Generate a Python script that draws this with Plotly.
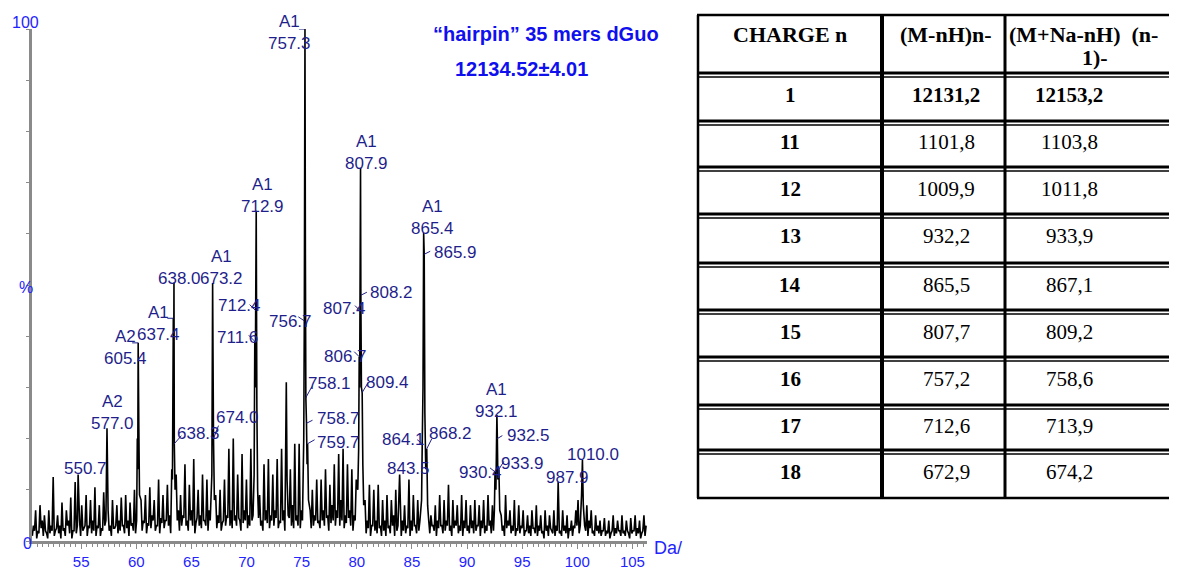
import numpy as np
import plotly.graph_objects as go

# ---------------- spectrum data ----------------
noise_start = 509      # m/z of first baseline sample
noise_step = 2         # m/z between baseline samples (each holds a trough then a spike)
# spike tops of the baseline noise (%), one per 2 m/z
noise_hi = [
    3, 6, 2, 7, 4, 5, 1.5, 6, 3, 12.5,
    2, 5, 3, 7.5, 2.5, 6, 4, 8.5, 2, 11.5,
    3, 4, 7, 2.5, 9, 3, 8, 4, 10.5, 3,
    7, 2.5, 9.5, 4, 6, 3, 8, 2.5, 7, 4,
    8.5, 3, 9, 4, 7.5, 3.5, 10, 4, 5, 8,
    4, 9, 3.5, 10.5, 5, 8, 3, 12, 4.5, 9,
    4, 11, 5, 14, 4, 13, 6, 9, 5, 15,
    4, 11, 6, 16, 3.5, 10, 5, 13, 4, 12,
    6, 17, 4, 9, 5, 10, 3.5, 12, 5, 18,
    6, 20, 5, 13, 4, 17, 6, 12, 5, 18,
    5, 11, 6, 9, 4, 15, 6, 16, 5, 13,
    6, 16, 4, 18, 6, 10, 5, 14, 7, 19,
    5, 19, 6, 11, 7, 9, 6, 10, 5, 12,
    4, 12, 6, 14, 5, 11, 7, 15, 6, 17,
    8, 18, 5, 15, 6, 14, 5, 12, 6, 10,
    7, 8, 4, 11, 3, 10, 4, 11, 3, 8,
    4, 9, 3, 8, 5, 10, 3, 9, 4, 7,
    3, 12, 4, 9, 3, 8, 4, 7, 5, 6,
    4, 5, 3, 7, 4, 9, 3, 8, 4, 11,
    3, 8, 4, 7, 3, 9, 4, 8, 3, 7,
    4, 8, 3, 7, 4, 8, 3, 9, 4, 7,
    3, 6, 4, 5, 3, 9, 4, 6, 3, 8,
    2.5, 7, 3, 6, 2, 5, 3, 6, 2.5, 7,
    3, 5, 2, 6, 3, 5, 2, 6, 3, 5,
    2, 6, 3, 5, 2.5, 4, 3, 6, 8, 3,
    9, 3, 7, 4, 6, 2, 5, 3, 4, 2,
    4.5, 2, 4, 1.5, 5, 2.5, 4, 2, 5, 2,
    4, 1.5, 4.5, 2, 5, 2.5, 4, 1.5, 5, 3,
]
# troughs of the baseline noise (%), one per 2 m/z
noise_lo = [
    1, 2, 0.5, 1.5, 2.5, 1, 2, 0.5, 1.5, 2,
    1, 2.5, 1.5, 0.5, 2, 1, 3, 1.5, 0.5, 2,
    1.5, 2.5, 1, 2, 3, 1, 2.5, 1.5, 2, 1,
    2.5, 1, 2, 3, 1.5, 2, 1, 2.5, 3, 1.5,
    2, 3, 1.5, 2.5, 1, 3, 2, 1.5, 2.5, 3,
    2, 3.5, 1.5, 3, 2.5, 4, 2, 3, 1.5, 3.5,
    2.5, 4, 3, 1.5, 3.5, 2.5, 4, 2, 3, 4.5,
    3, 2, 4, 3, 1.5, 4.5, 3, 2.5, 4, 3,
    2, 4, 3, 4.5, 2.5, 3.5, 2, 4, 3, 4.5,
    3, 2.5, 4, 3, 4.5, 2, 3.5, 4, 2.5, 3,
    4, 3, 2.5, 4.5, 3, 2, 4, 3.5, 2.5, 4,
    3, 4.5, 2.5, 3.5, 4, 2, 3, 4.5, 3, 2.5,
    4, 3, 2.5, 4, 3.5, 3, 4.5, 2.5, 3, 4,
    3.5, 2.5, 4, 3, 4.5, 2, 3.5, 4, 3, 4.5,
    3, 4, 2.5, 3.5, 4.5, 3, 2, 4, 3, 3.5,
    2, 3, 1.5, 2.5, 1, 3, 2, 1.5, 2.5, 1,
    2, 1, 2.5, 1.5, 3, 1, 2, 2.5, 1, 2,
    1.5, 2.5, 1, 2, 3, 1.5, 2, 1, 2.5, 2,
    2.5, 1.5, 3, 2, 1, 2.5, 3, 1.5, 2, 3,
    2, 1, 2.5, 3, 1.5, 2, 1, 2.5, 2, 1.5,
    2.5, 1.5, 2, 3, 1, 2.5, 1.5, 2, 3, 1.5,
    2, 1, 2.5, 1.5, 2, 1, 2.5, 3, 1.5, 2,
    1, 2, 1.5, 2.5, 1, 2, 1.5, 1, 2.5, 1.5,
    1, 2, 1.5, 0.5, 2, 1, 2.5, 1.5, 1, 2,
    1.5, 1, 2, 1.5, 0.5, 2, 1, 2.5, 3, 1.5,
    3, 1.5, 2, 1, 2.5, 1.5, 1, 2, 1.5, 1,
    2, 1, 1.5, 0.5, 2, 1, 1.5, 2, 1, 1.5,
    1, 2, 0.5, 1.5, 2, 1, 1.5, 0.5, 2, 1,
]

peak_mz = [
    550.7, 577.0,
    604.6, 605.0, 605.4, 606.0, 606.6,
    636.6, 637.4, 637.7, 638.0, 638.3, 639.0,
    672.5, 673.2, 673.6, 674.0, 674.8,
    711.0, 711.6, 712.0, 712.4, 712.9, 713.5, 714.2,
    739.6, 740.3, 741.0,
    755.6, 756.2, 756.7, 757.3, 757.7, 758.1, 758.7, 759.2, 759.7, 760.5,
    805.4, 806.2, 806.7, 807.1, 807.4, 807.9, 808.2, 808.7, 809.4, 810.0, 810.8,
    843.5,
    863.5, 864.1, 864.8, 865.4, 865.9, 866.5, 867.3, 868.2, 869.0,
    929.8, 930.4, 931.2, 931.7, 932.1, 932.5, 933.0, 933.9, 934.7,
    987.9,
    1009.2, 1010.0, 1010.8,
]
peak_int = [
    13, 22,
    20, 14, 38.7, 22, 9,
    12, 43.5, 30, 50.5, 19, 10,
    13, 50.4, 35, 20, 8,
    13, 39, 30, 45, 64.5, 26, 10,
    15, 31, 12,
    12, 20, 43, 100, 55, 28, 23, 15, 19, 8,
    10, 18, 36, 30, 45, 72.9, 48, 30, 29, 15, 7,
    13,
    8, 19, 30, 60.2, 56, 25, 14, 18, 7,
    6, 13.5, 10, 18, 24.6, 20, 12, 14, 6,
    11.5,
    9, 15.8, 7,
]

label_mz = [550.7, 577.0, 605.4, 637.4, 638.0, 638.3, 673.2, 674.0,
            711.6, 712.4, 712.9, 756.7, 757.3, 758.1, 758.7, 759.7,
            806.7, 807.4, 807.9, 808.2, 809.4, 843.5, 864.1, 865.4,
            865.9, 868.2, 930.4, 932.1, 932.5, 933.9, 987.9, 1010.0]
label_tag = {577.0: "A2", 605.4: "A2", 637.4: "A1", 673.2: "A1", 712.9: "A1",
             757.3: "A1", 807.9: "A1", 865.4: "A1", 932.1: "A1"}

x_tick_pos = [553.5, 603.7, 653.9, 704.1, 754.3, 804.5, 854.7, 904.9, 955.1, 1005.3, 1055.5]
x_tick_text = ["55", "60", "65", "70", "75", "80", "85", "90", "95", "100", "105"]
y_tick_pos = [0, 50, 100]
y_tick_text = ["0", "%", "100"]

title_line1 = "\u201chairpin\u201d 35 mers dGuo"
title_line2 = "12134.52\u00b14.01"

# ---------------- table data ----------------
tbl_header = ["CHARGE n", "(M-nH)n-", "(M+Na-nH)\u00a0\u00a0(n-", "1)-"]
charges = ["1", "11", "12", "13", "14", "15", "16", "17", "18"]
mass_mnh = ["12131,2", "1101,8", "1009,9", "932,2", "865,5", "807,7", "757,2", "712,6", "672,9"]
mass_mna = ["12153,2", "1103,8", "1011,8", "933,9", "867,1", "809,2", "758,6", "713,9", "674,2"]

# ---------------- styles / layout ----------------
# the page body adds an 8 px margin, so the figure is made 8 px smaller and
# every reference pixel position is shifted by that offset
OFF = 8
W, H = 1177 - OFF, 569 - OFF
NAVY = "#1f1f8c"
BLUE = "#2323ff"
TITLE_BLUE = "#1010ee"
SANS = "Liberation Sans, Arial, sans-serif"
SERIF = "Liberation Serif, Times New Roman, serif"

# label placement: text-centre offset (dx, dy down) and optional leader end (lx, ly down) in px
label_layout = {
    550.7: (7, -6, None), 577.0: (6, -16, None), 605.4: (-13, 4.5, (-6, 0)),
    637.4: (-15, 5, (-6, 0)), 638.0: (6, -4, None), 638.3: (24, -10.5, (7, -8)),
    673.2: (9, -15.5, None), 674.0: (23.5, -21.5, (5, -13)),
    711.6: (-17, -4, (-6, -6)), 712.4: (-16, -5.5, (-6, -6)), 712.9: (6, -15, None),
    756.7: (-14, 1, (-6, -4)), 757.3: (-15, 3.5, (-6, 0)), 758.1: (24, -14.5, (6, -11)),
    758.7: (31.5, -5, (6, -3)), 759.7: (30.5, -1.7, (7, -4)),
    806.7: (-14, 0, (-5, -5)), 807.4: (-15, -2.6, (-5, -5)), 807.9: (5.5, -15.3, None),
    808.2: (31, -3, (6, -3)), 809.4: (25, -10.5, (6, -10)), 843.5: (8.5, -6, None),
    864.1: (-19, -4.7, (-5, -4)), 865.4: (8.4, -14.8, None), 865.9: (31, -2, (6, -3)),
    868.2: (24, -15, (5, -10)), 930.4: (-15, 1, (-5, -4)), 932.1: (0, -15, None),
    932.5: (31, -3.6, (5, -3)), 933.9: (24, -6, (5, -8)), 987.9: (9, -5, None),
    1010.0: (11, -6, None),
}
# y-axis label centres (page px): drawn as text next to the axis like the reference
y_label_px = [(27, 543), (26, 288), (25.5, 23)]

# ---------------- build spectrum ----------------
n = len(noise_hi)
grid = noise_start + noise_step * np.arange(n)
noise_mz = np.concatenate([grid, grid + noise_step / 2])
noise_val = np.concatenate([np.array(noise_lo), np.array(noise_hi)])
peak_arr = np.array(peak_mz)
keep = np.array([np.min(np.abs(peak_arr - m)) > 0.6 for m in noise_mz])
spec_mz = np.concatenate([noise_mz[keep], peak_arr])
spec_int = np.concatenate([noise_val[keep], np.array(peak_int)])
order = np.argsort(spec_mz, kind="stable")
spec_mz, spec_int = spec_mz[order], spec_int[order]
int_at = dict(zip(peak_mz, peak_int))

fig = go.Figure()
fig.add_trace(go.Scatter(x=spec_mz, y=spec_int, mode="lines",
                         line=dict(color="black", width=1.6, simplify=False),
                         hoverinfo="skip", showlegend=False))

def px2x(px):
    return (px - OFF) / W

def py2y(py):
    return 1 - (py - OFF) / H

annotations = []
shapes = []
for mz in label_mz:
    inten = int_at[mz]
    dx, dy, leader = label_layout[mz]
    txt = f"{mz:.1f}"
    if mz in label_tag:
        txt = f"{label_tag[mz]}<br>{txt}"
    annotations.append(dict(x=mz, y=inten, xref="x", yref="y", text=txt, showarrow=False,
                            xshift=dx, yshift=-dy, xanchor="center", yanchor="middle",
                            font=dict(family=SANS, size=17, color=NAVY)))
    if leader is not None:
        lx, ly = leader
        shapes.append(dict(type="line", xref="x", yref="y", xsizemode="pixel", ysizemode="pixel",
                           xanchor=mz, yanchor=inten, x0=0, x1=lx, y0=0, y1=-ly,
                           line=dict(color=NAVY, width=1)))

# y-axis labels
for (lx, ly), txt in zip(y_label_px, y_tick_text):
    annotations.append(dict(x=px2x(lx), y=py2y(ly), xref="paper", yref="paper", showarrow=False,
                            text=txt, xanchor="center", yanchor="middle",
                            font=dict(family=SANS, size=16, color=BLUE)))

# titles
annotations.append(dict(x=px2x(546), y=py2y(34), xref="paper", yref="paper", showarrow=False,
                        text=f"<b>{title_line1}</b>", xanchor="center", yanchor="middle",
                        font=dict(family=SANS, size=20, color=TITLE_BLUE)))
annotations.append(dict(x=px2x(521), y=py2y(69), xref="paper", yref="paper", showarrow=False,
                        text=f"<b>{title_line2}</b>", xanchor="center", yanchor="middle",
                        font=dict(family=SANS, size=20, color=TITLE_BLUE)))
annotations.append(dict(x=px2x(652), y=py2y(548), xref="paper", yref="paper", showarrow=False,
                        text="Da/", xanchor="left", yanchor="middle",
                        font=dict(family=SANS, size=18, color=BLUE)))

# ---------------- table ----------------
t_left, t_right = 698, 1180
col_x = [698, 882, 1005]
row_bounds = [15, 73, 121, 167, 214, 263, 310, 357, 405, 450, 498]
col_centers = [790, 946, 1069]

def hline(y, x0, x1, w):
    shapes.append(dict(type="line", xref="paper", yref="paper", x0=px2x(x0), x1=px2x(x1),
                       y0=py2y(y), y1=py2y(y), line=dict(color="black", width=w)))

def vline(x, y0, y1, w):
    shapes.append(dict(type="line", xref="paper", yref="paper", x0=px2x(x), x1=px2x(x),
                       y0=py2y(y0), y1=py2y(y1), line=dict(color="black", width=w)))

hline(row_bounds[0], t_left - 1, t_right, 2.5)
hline(row_bounds[-1], t_left - 1, t_right, 2.5)
for b in row_bounds[1:-1]:
    hline(b, t_left, t_right, 3)
    hline(b + 4, t_left, t_right, 1.5)
vline(col_x[0], row_bounds[0], row_bounds[-1], 2.5)
vline(col_x[1], row_bounds[0], row_bounds[-1], 4)
vline(col_x[2], row_bounds[0], row_bounds[-1], 3)

def tbl_text(x, y, text, bold=False, size=21, xanchor="center"):
    annotations.append(dict(x=px2x(x), y=py2y(y), xref="paper", yref="paper", showarrow=False,
                            text=f"<b>{text}</b>" if bold else text, xanchor=xanchor,
                            yanchor="middle", font=dict(family=SERIF, size=size, color="black")))

tbl_text(col_centers[0], 35, tbl_header[0], bold=True, size=22)
tbl_text(col_centers[1], 35, tbl_header[1], bold=True, size=22)
tbl_text(1007, 35, tbl_header[2], bold=True, size=22, xanchor="left")
tbl_text(1095, 58, tbl_header[3], bold=True, size=22)
for i, (c, a, b) in enumerate(zip(charges, mass_mnh, mass_mna)):
    y = (row_bounds[i + 1] + 4 + row_bounds[i + 2]) / 2 - 4
    first = i == 0
    tbl_text(col_centers[0], y, c, bold=True)
    tbl_text(col_centers[1], y, a, bold=first)
    tbl_text(col_centers[2], y, b, bold=first)

# ---------------- axes ----------------
x_lo, x_hi = 508.7, 1068.8
fig.update_layout(
    width=W, height=H, autosize=False,
    margin=dict(l=0, r=0, t=0, b=0, pad=0),
    paper_bgcolor="white", plot_bgcolor="white",
    showlegend=False,
    annotations=annotations, shapes=shapes,
    xaxis=dict(domain=[px2x(32), px2x(647)], range=[x_lo, x_hi], showgrid=False, zeroline=False,
               automargin=False,
               showline=True, linecolor="#8a8a8a", linewidth=3,
               tickmode="array", tickvals=x_tick_pos, ticktext=x_tick_text,
               ticks="outside", ticklen=5, tickwidth=1, tickcolor="#8a8a8a",
               tickfont=dict(family=SANS, size=15, color=BLUE),
               minor=dict(tick0=x_tick_pos[0], dtick=(x_tick_pos[1] - x_tick_pos[0]) / 10,
                          ticklen=3, tickcolor="#8a8a8a", ticks="outside")),
    yaxis=dict(domain=[py2y(541), py2y(29)], range=[0, 100], showgrid=False, zeroline=False,
               automargin=False,
               showline=True, linecolor="#8a8a8a", linewidth=3,
               tickmode="array", tickvals=y_tick_pos, showticklabels=False,
               ticks="outside", ticklen=3, tickwidth=1, tickcolor="#8a8a8a",
               minor=dict(dtick=10, tick0=0, ticklen=3, tickcolor="#8a8a8a", ticks="outside")),
)

fig.write_html("out.html")
